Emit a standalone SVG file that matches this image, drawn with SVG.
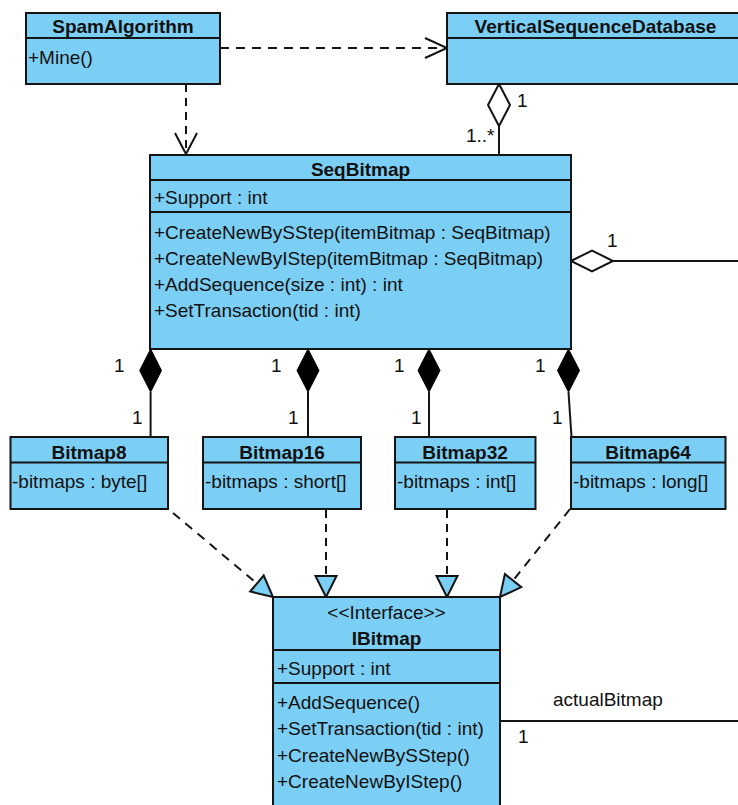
<svg xmlns="http://www.w3.org/2000/svg" width="738" height="805" viewBox="0 0 738 805">
  <style>
    .box { fill: #7ccff4; stroke: #141414; stroke-width: 2; }
    .sep { stroke: #141414; stroke-width: 2; }
    .ln { fill: none; stroke: #141414; stroke-width: 2; }
    .dash { fill: none; stroke: #141414; stroke-width: 2; stroke-dasharray: 9 7; }
    .open { fill: none; stroke: #141414; stroke-width: 2; stroke-linejoin: miter; }
    .tri { fill: #7ccff4; stroke: #141414; stroke-width: 2; stroke-linejoin: miter; }
    .hollow { fill: #ffffff; stroke: #141414; stroke-width: 2; }
    .solid { fill: #000000; stroke: #000000; stroke-width: 1; }
    text { font-family: "Liberation Sans", Arial, sans-serif; font-size: 19px; fill: #111111; }
    .t { font-weight: bold; text-anchor: middle; }
    .st { text-anchor: middle; }
    .m { text-anchor: start; }
  </style>

  <!-- connectors -->
  <g id="connectors">
    <!-- SpamAlgorithm uses VerticalSequenceDatabase -->
    <line class="dash" x1="220" y1="48" x2="446" y2="48"/>
    <polyline class="open" points="425,38 447,48 425,58"/>
    <!-- SpamAlgorithm uses SeqBitmap -->
    <line class="dash" x1="186" y1="84" x2="186" y2="153" style="stroke-dasharray: 8 6"/>
    <polyline class="open" points="175,133 186,154 197,133"/>
    <!-- VerticalSequenceDatabase aggregates SeqBitmap -->
    <line class="ln" x1="499" y1="126" x2="499" y2="155"/>
    <polygon class="hollow" points="499,84 510,105 499,126 488,105"/>
    <text class="m" x="517" y="107">1</text>
    <text class="m" x="466" y="142">1..*</text>
    <!-- SeqBitmap aggregation to the right -->
    <line class="ln" x1="613" y1="261" x2="738" y2="261"/>
    <polygon class="hollow" points="571,261 592,250.5 613,261 592,271.5"/>
    <text class="m" x="607" y="247">1</text>
    <!-- compositions SeqBitmap -> BitmapN -->
    <line class="ln" x1="150.6" y1="392" x2="150.6" y2="437"/>
    <polygon class="solid" points="150.6,349 161.5,370.5 150.6,392 139.7,370.5"/>
    <text class="m" x="114" y="372">1</text>
    <text class="m" x="132" y="424">1</text>
    <line class="ln" x1="308" y1="392" x2="308" y2="437"/>
    <polygon class="solid" points="308,349 319,370.5 308,392 297,370.5"/>
    <text class="m" x="271" y="372">1</text>
    <text class="m" x="288" y="424">1</text>
    <line class="ln" x1="429" y1="392" x2="429" y2="437"/>
    <polygon class="solid" points="429,349 440,370.5 429,392 418,370.5"/>
    <text class="m" x="394" y="372">1</text>
    <text class="m" x="411" y="424">1</text>
    <line class="ln" x1="568.5" y1="392" x2="571.5" y2="437"/>
    <polygon class="solid" points="568.5,349 579.5,370.5 568.5,392 557.5,370.5"/>
    <text class="m" x="535" y="372">1</text>
    <text class="m" x="552" y="424">1</text>
    <!-- realizations BitmapN -> IBitmap -->
    <line class="dash" x1="173" y1="513" x2="257" y2="583.5"/>
    <polygon class="tri" points="273,597 250.2,591.5 263.7,575.5"/>
    <line class="dash" x1="326" y1="510" x2="326" y2="576" style="stroke-dasharray: 8 6"/>
    <polygon class="tri" points="326,597 315.5,576 336.5,576"/>
    <line class="dash" x1="447" y1="510" x2="447" y2="576" style="stroke-dasharray: 8 6"/>
    <polygon class="tri" points="447,597 436.5,576 457.5,576"/>
    <line class="dash" x1="570" y1="509" x2="513" y2="580.6"/>
    <polygon class="tri" points="500,597 504.9,574.1 521.3,587.1"/>
    <!-- IBitmap association -->
    <line class="ln" x1="500" y1="721" x2="738" y2="721"/>
    <text class="m" x="553" y="706">actualBitmap</text>
    <text class="m" x="518" y="743">1</text>
  </g>

  <g id="SpamAlgorithm">
    <rect class="box" x="26" y="13" width="194" height="71"/>
    <line class="sep" x1="26" y1="38" x2="220" y2="38"/>
    <text class="t" x="123" y="33">SpamAlgorithm</text>
    <text class="m" x="28" y="64">+Mine()</text>
  </g>

  <g id="VerticalSequenceDatabase">
    <rect class="box" x="447" y="13" width="300" height="71"/>
    <line class="sep" x1="447" y1="38" x2="747" y2="38"/>
    <text class="t" x="595.5" y="33">VerticalSequenceDatabase</text>
  </g>

  <g id="SeqBitmap">
    <rect class="box" x="150" y="155" width="421" height="194"/>
    <line class="sep" x1="150" y1="180" x2="571" y2="180"/>
    <line class="sep" x1="150" y1="212" x2="571" y2="212"/>
    <text class="t" x="360.5" y="175.5">SeqBitmap</text>
    <text class="m" x="154" y="204">+Support : int</text>
    <text class="m" x="154" y="239">+CreateNewBySStep(itemBitmap : SeqBitmap)</text>
    <text class="m" x="154" y="265">+CreateNewByIStep(itemBitmap : SeqBitmap)</text>
    <text class="m" x="154" y="291">+AddSequence(size : int) : int</text>
    <text class="m" x="154" y="317">+SetTransaction(tid : int)</text>
  </g>

  <g id="Bitmap8">
    <rect class="box" x="10.5" y="437" width="157.5" height="72"/>
    <line class="sep" x1="10.5" y1="462.5" x2="168" y2="462.5"/>
    <text class="t" x="89" y="458.5">Bitmap8</text>
    <text class="m" x="12" y="488">-bitmaps : byte[]</text>
  </g>

  <g id="Bitmap16">
    <rect class="box" x="203" y="437" width="158" height="72"/>
    <line class="sep" x1="203" y1="462.5" x2="361" y2="462.5"/>
    <text class="t" x="282" y="458.5">Bitmap16</text>
    <text class="m" x="205" y="488">-bitmaps : short[]</text>
  </g>

  <g id="Bitmap32">
    <rect class="box" x="395" y="437" width="140.5" height="72"/>
    <line class="sep" x1="395" y1="462.5" x2="535.5" y2="462.5"/>
    <text class="t" x="465" y="458.5">Bitmap32</text>
    <text class="m" x="397" y="488">-bitmaps : int[]</text>
  </g>

  <g id="Bitmap64">
    <rect class="box" x="571" y="437" width="154.5" height="72"/>
    <line class="sep" x1="571" y1="462.5" x2="725.5" y2="462.5"/>
    <text class="t" x="648" y="458.5">Bitmap64</text>
    <text class="m" x="573" y="488">-bitmaps : long[]</text>
  </g>

  <g id="IBitmap">
    <rect class="box" x="273" y="597" width="227" height="220"/>
    <line class="sep" x1="273" y1="650" x2="500" y2="650"/>
    <line class="sep" x1="273" y1="683" x2="500" y2="683"/>
    <text class="st" x="386.5" y="618.5">&lt;&lt;Interface&gt;&gt;</text>
    <text class="t" x="386.5" y="644.5">IBitmap</text>
    <text class="m" x="277" y="674.5">+Support : int</text>
    <text class="m" x="277" y="709">+AddSequence()</text>
    <text class="m" x="277" y="735">+SetTransaction(tid : int)</text>
    <text class="m" x="277" y="762">+CreateNewBySStep()</text>
    <text class="m" x="277" y="788">+CreateNewByIStep()</text>
  </g>
</svg>
